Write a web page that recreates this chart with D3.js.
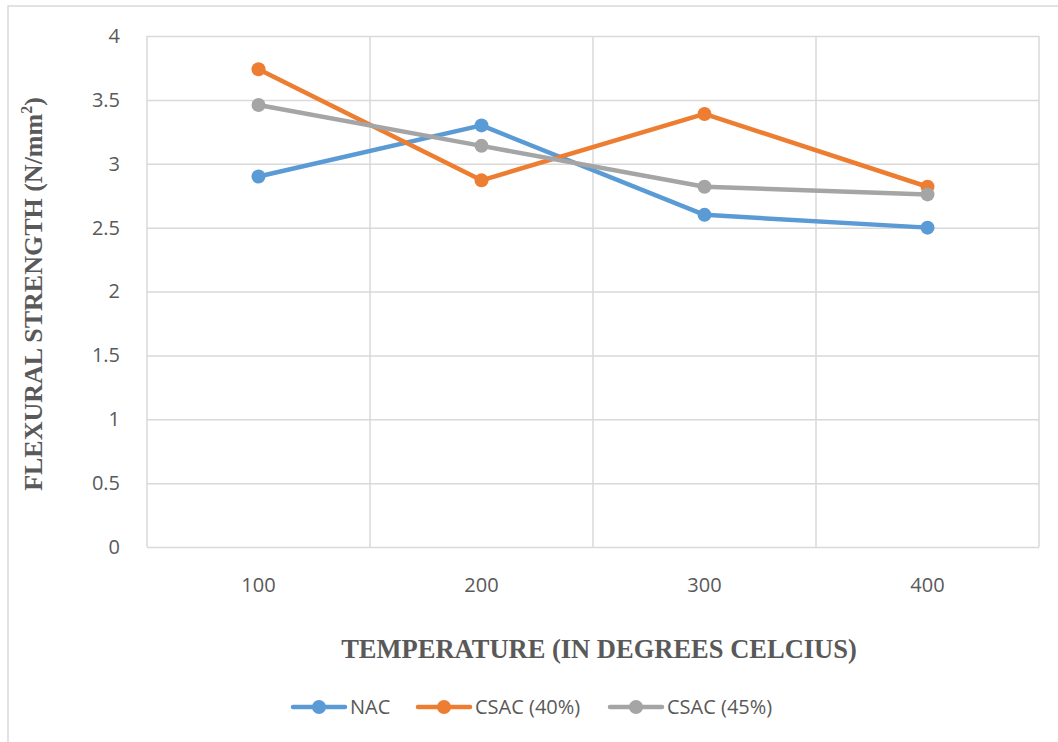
<!DOCTYPE html>
<html><head>
<meta charset="utf-8">
<script src="https://d3js.org/d3.v7.min.js"></script>
<style>
  body { margin: 0; background: #fff; }
  .gridlines line { stroke: #d9d9d9; stroke-width: 1.5; }
  .gridlines .domain { stroke: none; }
  .tick text { fill: #595959; font-family: "Open Sans", "Noto Sans", sans-serif; font-size: 20px; }
</style>
</head>
<body>
<svg id="chart" width="1058" height="742"></svg>
<script>
  // data
  const temps = ["100", "200", "300", "400"];
  const seriesNames = ["NAC", "CSAC (40%)", "CSAC (45%)"];
  const nacValues = [2.9, 3.3, 2.6, 2.5];
  const csac40Values = [3.74, 2.87, 3.39, 2.82];
  const csac45Values = [3.46, 3.14, 2.82, 2.76];
  const yTicks = [0, 0.5, 1, 1.5, 2, 2.5, 3, 3.5, 4];
  const colors = ["#5B9BD5", "#ED7D31", "#A5A5A5"];

  const series = [nacValues, csac40Values, csac45Values].map((vals, i) => ({
    name: seriesNames[i], color: colors[i], values: vals
  }));

  const svg = d3.select("svg#chart");
  const margin = {top: 36, left: 147};
  const chartWidth = 1039 - margin.left;
  const chartHeight = 547 - margin.top;

  // outer frame (only top and left visible in the reference)
  svg.append("path")
    .attr("d", "M8,760 L8,6 L1070,6")
    .attr("fill", "none").attr("stroke", "#d9d9d9").attr("stroke-width", 1.5);

  const xScale = d3.scaleBand().domain(temps).range([0, chartWidth]);
  const yScale = d3.scaleLinear().domain([0, 4]).range([chartHeight, 0]);

  const chartArea = svg.append("g")
    .attr("transform", "translate(" + margin.left + "," + margin.top + ")");

  // horizontal gridlines
  chartArea.append("g").attr("class", "gridlines")
    .call(d3.axisLeft(yScale).tickValues(yTicks).tickSize(-chartWidth).tickFormat(""));

  // vertical gridlines at band boundaries
  const bounds = temps.map(t => xScale(t)).concat([chartWidth]);
  chartArea.append("g").attr("class", "gridlines")
    .selectAll("line").data(bounds).join("line")
    .attr("x1", d => d).attr("x2", d => d)
    .attr("y1", 0).attr("y2", chartHeight);

  // y tick labels
  const leftAxis = chartArea.append("g")
    .attr("transform", "translate(-24,0)")
    .call(d3.axisLeft(yScale).tickValues(yTicks).tickSize(0).tickFormat(d3.format("~g")));
  leftAxis.select(".domain").remove();

  // x tick labels
  const bottomAxis = chartArea.append("g")
    .attr("transform", "translate(0," + (chartHeight + 28) + ")")
    .call(d3.axisBottom(xScale).tickSize(0));
  bottomAxis.select(".domain").remove();

  // lines and markers
  const line = d3.line()
    .x((d, i) => xScale(temps[i]) + xScale.bandwidth() / 2)
    .y(d => yScale(d));

  series.forEach(s => {
    chartArea.append("path")
      .attr("d", line(s.values))
      .attr("fill", "none")
      .attr("stroke", s.color)
      .attr("stroke-width", 4.5)
      .attr("stroke-linejoin", "round")
      .attr("stroke-linecap", "round");
    chartArea.append("g").selectAll("circle").data(s.values).join("circle")
      .attr("cx", (d, i) => xScale(temps[i]) + xScale.bandwidth() / 2)
      .attr("cy", d => yScale(d))
      .attr("r", 7)
      .attr("fill", s.color);
  });

  // axis titles
  svg.append("text")
    .attr("x", 599).attr("y", 658)
    .attr("text-anchor", "middle")
    .attr("font-family", "'Liberation Serif', 'DejaVu Serif', serif")
    .attr("font-weight", "bold").attr("font-size", 26.5)
    .attr("fill", "#595959")
    .text("TEMPERATURE (IN DEGREES CELCIUS)");

  const yTitle = svg.append("text")
    .attr("transform", "translate(42,294) rotate(-90)")
    .attr("text-anchor", "middle")
    .attr("font-family", "'Liberation Serif', 'DejaVu Serif', serif")
    .attr("font-weight", "bold").attr("font-size", 26)
    .attr("fill", "#595959");
  yTitle.append("tspan").text("FLEXURAL STRENGTH (N/mm");
  yTitle.append("tspan").attr("font-size", 16).attr("dy", -10).text("2");
  yTitle.append("tspan").attr("dy", 10).text(")");

  // legend
  const legendX = [293, 418, 610];
  const legend = svg.append("g").attr("transform", "translate(0,707)");
  series.forEach((s, i) => {
    const g = legend.append("g").attr("transform", "translate(" + legendX[i] + ",0)");
    g.append("line").attr("x1", 0).attr("x2", 52).attr("y1", 0).attr("y2", 0)
      .attr("stroke", s.color).attr("stroke-width", 4.5).attr("stroke-linecap", "round");
    g.append("circle").attr("cx", 26).attr("cy", 0).attr("r", 7).attr("fill", s.color);
    g.append("text").attr("x", 57).attr("y", 0).attr("dy", "0.35em")
      .attr("font-family", "'Open Sans', 'Noto Sans', sans-serif")
      .attr("font-size", 20).attr("fill", "#595959")
      .text(s.name);
  });
</script>
</body>
</html>
